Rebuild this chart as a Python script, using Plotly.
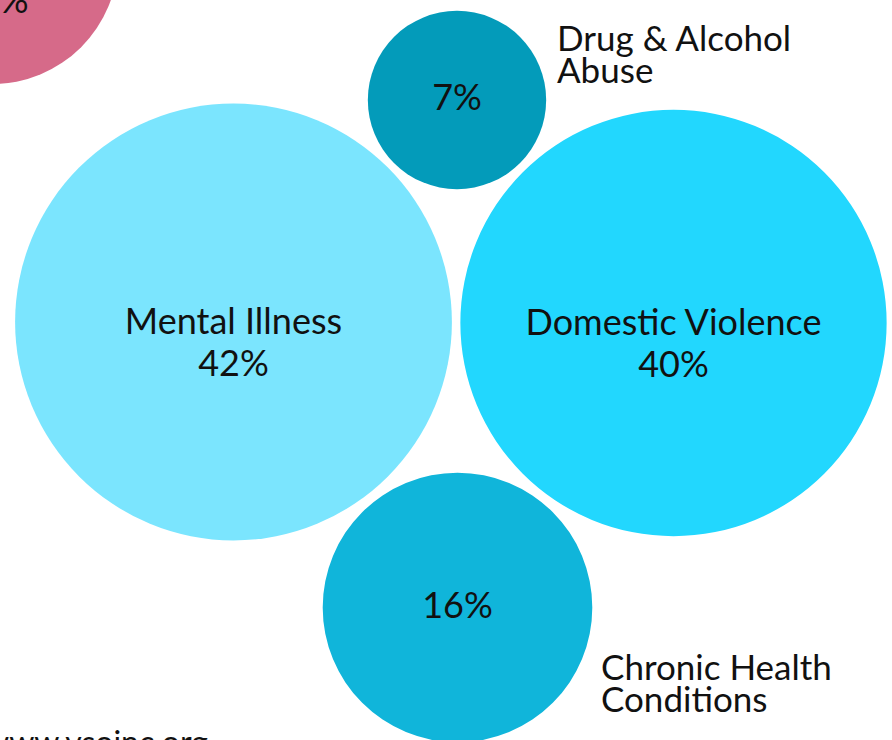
import math
import plotly.graph_objects as go

# ---- data ----
categories = ["Unemployment", "Drug & Alcohol Abuse", "Mental Illness",
              "Domestic Violence", "Chronic Health Conditions"]
values = [14, 7, 42, 40, 16]
inside_names = [True, False, True, True, False]
outside_lines = [None, ["Drug & Alcohol", "Abuse"], None, None,
                 ["Chronic Health", "Conditions"]]
footer = "www.vsoinc.org"

# ---- layout / style (packed bubble positions, in pixel space) ----
W, H = 892, 740
K = 33.7  # px radius per sqrt(percent)
centers_x = [-8, 457, 233.5, 673.5, 457.5]
centers_y = [-42, 100, 322, 323, 607.5]
colors = ["#D66A89", "#039BBA", "#7BE5FE", "#22D7FE", "#10B5DA"]
outside_anchor = [None, (557, 42), None, None, (601, 671)]
FONT = "Lato"
INNER_SIZE = 36
OUTER_SIZE = 35
INNER_GAP = 42
OUTER_GAP = 32
TEXT_DY = 4

fig = go.Figure()

# bubbles (area proportional to value), drawn in axis coordinates
for v, x, y, col in zip(values, centers_x, centers_y, colors):
    r = K * math.sqrt(v)
    fig.add_shape(type="circle", xref="x", yref="y",
                  x0=x - r, x1=x + r, y0=y - r, y1=y + r,
                  fillcolor=col, line=dict(width=0), layer="below")

def in_range(x, y):
    return 0 <= x <= W and 0 <= y <= H

# inner labels, one text per line
tx, ty, tt = [], [], []
ann = []
for c, v, inside, x, y in zip(categories, values, inside_names, centers_x, centers_y):
    lines = [c, f"{v}%"] if inside else [f"{v}%"]
    offs = [-1, INNER_GAP - 1] if inside else [-3]
    for ln, o in zip(lines, offs):
        yy = y + o + TEXT_DY
        if in_range(x, y):
            tx.append(x); ty.append(yy); tt.append(ln)
        else:
            ann.append(dict(x=x / W, y=1 - yy / H, xref="paper", yref="paper",
                            text=ln, showarrow=False, xanchor="center", yanchor="middle",
                            xshift=1, yshift=4,
                            font=dict(family=FONT, size=INNER_SIZE, color="#111111")))
fig.add_trace(go.Scatter(
    x=tx, y=ty, text=tt, mode="text", textposition="middle center",
    textfont=dict(family=FONT, size=INNER_SIZE, color="#111111"),
    cliponaxis=False, hoverinfo="skip", showlegend=False))

# outside labels, one line each
ox, oy, ot = [], [], []
for lines, anc in zip(outside_lines, outside_anchor):
    if lines:
        for i, ln in enumerate(lines):
            ox.append(anc[0]); oy.append(anc[1] + OUTER_GAP * i); ot.append(ln)
fig.add_trace(go.Scatter(
    x=ox, y=oy, text=ot, mode="text", textposition="middle right",
    textfont=dict(family=FONT, size=OUTER_SIZE, color="#111111"),
    cliponaxis=False, hoverinfo="skip", showlegend=False))

# footer (partly cut off at the bottom-left edge)
ann.append(dict(x=210 / W, y=1 - 720 / H, xref="paper", yref="paper", text=footer,
                showarrow=False, xanchor="right", yanchor="top",
                font=dict(family=FONT, size=32, color="#111111")))

fig.update_layout(
    width=W, height=H, margin=dict(l=0, r=0, t=0, b=0),
    paper_bgcolor="white", plot_bgcolor="white",
    xaxis=dict(range=[0, W], visible=False, fixedrange=True),
    yaxis=dict(range=[H, 0], visible=False, fixedrange=True),
    annotations=ann,
)
fig.write_html("out.html", config={"displayModeBar": False},
               post_script="document.body.style.margin='0';"
                           "document.body.style.overflow='hidden';")
